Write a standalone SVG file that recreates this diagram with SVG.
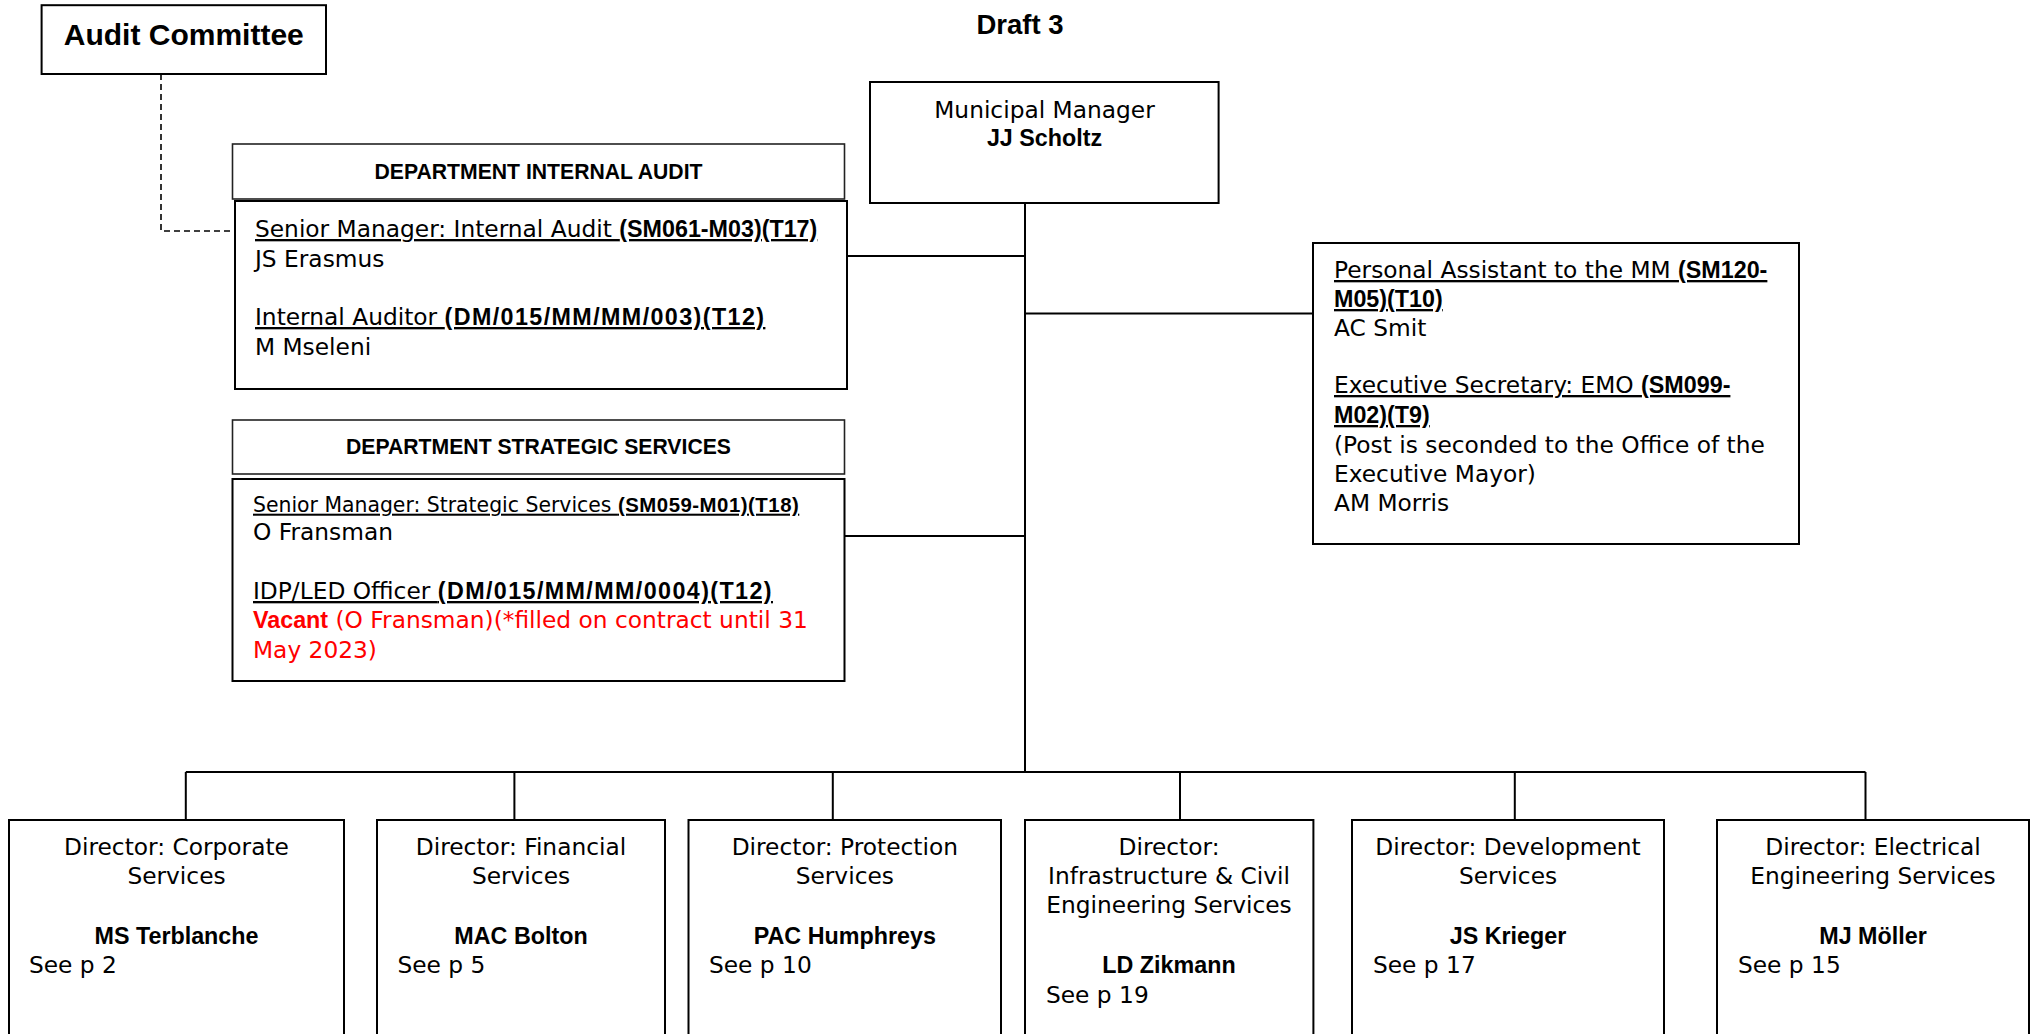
<svg xmlns="http://www.w3.org/2000/svg" width="2037" height="1034" viewBox="0 0 2037 1034">
<style>
.box{fill:#fff;stroke:#000;stroke-width:2}
.hdr{fill:#fff;stroke:#222;stroke-width:1.6}
.ln{fill:none;stroke:#000;stroke-width:2}
.dash{fill:none;stroke:#000;stroke-width:1.6;stroke-dasharray:6 4}
.t{font-family:"DejaVu Sans",sans-serif;font-size:23.3px;fill:#000}
.c{text-anchor:middle}
.b{font-family:"Liberation Sans",Arial,sans-serif;font-weight:bold}
.ls{letter-spacing:1.4px}
.ls2{letter-spacing:0.5px}
.u{text-decoration:underline}
.red{fill:#ff0000}
.hb{font-family:"Liberation Sans",Arial,sans-serif;font-weight:bold;font-size:21.2px;text-anchor:middle;fill:#000}
</style>
<rect width="2037" height="1034" fill="#fff"/>
<g id="connectors">
<path class="ln" d="M1025 203V772"/>
<path class="ln" d="M847 256H1025"/>
<path class="ln" d="M1025 313.5H1313"/>
<path class="ln" d="M844.5 536H1025"/>
<path class="ln" d="M185.8 772H1865.5"/>
<path class="ln" d="M185.8 772V820M514.4 772V820M832.8 772V820M1180 772V820M1514.8 772V820M1865.5 772V820"/>
<path class="dash" d="M161 74V231H234"/>
</g>
<text x="1020" y="34" class="b c" font-size="27.5">Draft 3</text>
<g id="audit-committee">
<rect class="box" x="41.6" y="5.2" width="284.4" height="68.8"/>
<text x="183.8" y="45" class="b c" font-size="30">Audit Committee</text>
</g>
<g id="dept-internal-audit">
<rect class="hdr" x="232.5" y="144" width="612" height="55"/>
<text x="538.5" y="179" class="hb">DEPARTMENT INTERNAL AUDIT</text>
</g>
<g id="internal-audit-staff">
<rect class="box" x="235" y="201" width="612" height="188"/>
<text x="255" y="237" class="t u">Senior Manager: Internal Audit <tspan class="b">(SM061-M03)(T17)</tspan></text>
<text x="255" y="267" class="t">JS Erasmus</text>
<text x="255" y="325" class="t u">Internal Auditor <tspan class="b ls">(DM/015/MM/MM/003)(T12)</tspan></text>
<text x="255" y="355" class="t">M Mseleni</text>
</g>
<g id="municipal-manager">
<rect class="box" x="870" y="82" width="348.6" height="121"/>
<text x="1044.5" y="118" class="t c">Municipal Manager</text>
<text x="1044.5" y="146.4" class="t c b">JJ Scholtz</text>
</g>
<g id="personal-assistant">
<rect class="box" x="1313" y="243" width="486" height="301"/>
<text x="1334" y="278" class="t u">Personal Assistant to the MM <tspan class="b">(SM120-</tspan></text>
<text x="1334" y="307" class="t u b">M05)(T10)</text>
<text x="1334" y="336" class="t">AC Smit</text>
<text x="1334" y="393" class="t u">Executive Secretary: EMO <tspan class="b">(SM099-</tspan></text>
<text x="1334" y="423" class="t u b">M02)(T9)</text>
<text x="1334" y="453" class="t">(Post is seconded to the Office of the</text>
<text x="1334" y="482" class="t">Executive Mayor)</text>
<text x="1334" y="511" class="t">AM Morris</text>
</g>
<g id="dept-strategic-services">
<rect class="hdr" x="232.5" y="420" width="612" height="54"/>
<text x="538.5" y="454" class="hb">DEPARTMENT STRATEGIC SERVICES</text>
</g>
<g id="strategic-services-staff">
<rect class="box" x="232.5" y="479" width="612" height="202"/>
<text x="253" y="511.7" class="t u" style="font-size:20.4px">Senior Manager: Strategic Services <tspan class="b ls2">(SM059-M01)(T18)</tspan></text>
<text x="253" y="540" class="t">O Fransman</text>
<text x="253" y="599" class="t u">IDP/LED Officer <tspan class="b ls">(DM/015/MM/MM/0004)(T12)</tspan></text>
<text x="253" y="628" class="t red"><tspan class="b">Vacant</tspan> (O Fransman)(*filled on contract until 31</text>
<text x="253" y="658" class="t red">May 2023)</text>
</g>
<g id="dir-corporate">
<rect class="box" x="9" y="820" width="335" height="240"/>
<text x="176.5" y="855" class="t c">Director: Corporate</text>
<text x="176.5" y="884" class="t c">Services</text>
<text x="176.5" y="944" class="t c b">MS Terblanche</text>
<text x="29" y="973" class="t">See p 2</text>
</g>
<g id="dir-financial">
<rect class="box" x="377" y="820" width="288" height="240"/>
<text x="521" y="855" class="t c">Director: Financial</text>
<text x="521" y="884" class="t c">Services</text>
<text x="521" y="944" class="t c b">MAC Bolton</text>
<text x="397.5" y="973" class="t">See p 5</text>
</g>
<g id="dir-protection">
<rect class="box" x="688.5" y="820" width="312.5" height="240"/>
<text x="844.8" y="855" class="t c">Director: Protection</text>
<text x="844.8" y="884" class="t c">Services</text>
<text x="844.8" y="944" class="t c b">PAC Humphreys</text>
<text x="709" y="973" class="t">See p 10</text>
</g>
<g id="dir-infrastructure">
<rect class="box" x="1025" y="820" width="288.4" height="240"/>
<text x="1169" y="855" class="t c">Director:</text>
<text x="1169" y="884" class="t c">Infrastructure &amp; Civil</text>
<text x="1169" y="913" class="t c">Engineering Services</text>
<text x="1169" y="973" class="t c b">LD Zikmann</text>
<text x="1046" y="1002.7" class="t">See p 19</text>
</g>
<g id="dir-development">
<rect class="box" x="1352" y="820" width="312" height="240"/>
<text x="1508" y="855" class="t c">Director: Development</text>
<text x="1508" y="884" class="t c">Services</text>
<text x="1508" y="944" class="t c b">JS Krieger</text>
<text x="1373" y="973" class="t">See p 17</text>
</g>
<g id="dir-electrical">
<rect class="box" x="1717" y="820" width="312" height="240"/>
<text x="1873" y="855" class="t c">Director: Electrical</text>
<text x="1873" y="884" class="t c">Engineering Services</text>
<text x="1873" y="944" class="t c b">MJ Möller</text>
<text x="1738" y="973" class="t">See p 15</text>
</g>
</svg>
